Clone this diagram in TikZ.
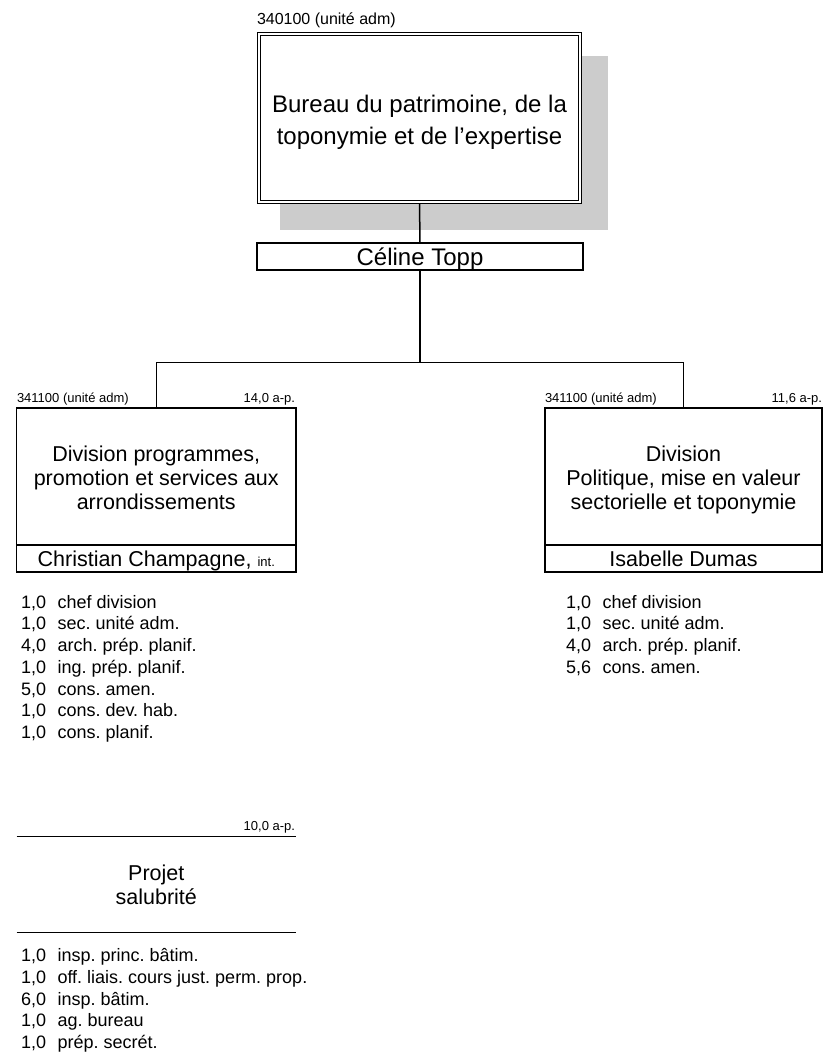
\documentclass[tikz,border=0pt]{standalone}
\usepackage{fontspec}
\setmainfont{Liberation Sans}
\frenchspacing
\usetikzlibrary{positioning}
\definecolor{shadowgray}{RGB}{204,204,204}
\newcommand{\bigfont}{\fontsize{24}{32.5}\selectfont}
\newcommand{\midfont}{\fontsize{21.5}{24}\selectfont}
\newcommand{\listfont}{\fontsize{18}{21.7}\selectfont}
\newcommand{\smallfont}{\fontsize{13}{15}\selectfont}
\newcommand{\topfont}{\fontsize{16}{18}\selectfont}

\begin{document}
\begin{tikzpicture}[x=1pt,y=-1pt,
every node/.style={inner sep=0pt,outer sep=0pt},
box/.style={draw,line width=1.5pt,rectangle,fill=white},
link/.style={line width=1.5pt},
title/.style={anchor=north,align=center},
tag/.style={anchor=base,font=\smallfont},
listbox/.style={anchor=north west,font=\listfont}]

\useasboundingbox (0,0) rectangle (823,1054);

% bureau
\fill[shadowgray] (280,56) rectangle (608,230);
\node[box,double,line width=1.1pt,double distance=2.2pt,
minimum width=321.5pt,minimum height=167.5pt]
(bureau) at (419.5,118) {};
\node[title,font=\bigfont] (bureautxt) at (419.5,94.8)
{Bureau du patrimoine, de la\\toponymie et de l'expertise};
\node[anchor=base west,font=\topfont] (bureaucode) at (257,25) {340100 (unité adm)};

\node[box,minimum width=326pt,minimum height=27pt] (celine) at (420,256.5) {};
\node[anchor=base,font=\bigfont] (celinetxt) at (420,265.5) {Céline Topp};

% divisions
\node[box,minimum width=279.5pt,minimum height=137pt] (divprog) at (156.25,476.5) {};
\node[box,minimum width=279.5pt,minimum height=27pt,below=0pt of divprog] (champagne) {};
\node[title,font=\midfont] (divprogtxt) at (156.25,446)
{Division programmes,\\promotion et services aux\\arrondissements};
\node[anchor=base,font=\midfont] (champagnetxt) at (156.25,566)
{Christian Champagne, {\smallfont int.}};
\node[tag,anchor=base west] (divprogcode) at (17,402) {341100 (unité adm)};
\node[tag,anchor=base east] (divprogap) at (295,402) {14,0 a-p.};

\node[box,minimum width=277pt,minimum height=137pt] (divpol) at (683.5,476.5) {};
\node[box,minimum width=277pt,minimum height=27pt,below=0pt of divpol] (dumas) {};
\node[title,font=\midfont] (divpoltxt) at (683.5,446)
{Division\\Politique, mise en valeur\\sectorielle et toponymie};
\node[anchor=base,font=\midfont] (dumastxt) at (683.5,566) {Isabelle Dumas};
\node[tag,anchor=base west] (divpolcode) at (545,402) {341100 (unité adm)};
\node[tag,anchor=base east] (divpolap) at (822,402) {11,6 a-p.};

% liens
\coordinate (split) at (420,362.5);
\draw[link,shorten <=2.2pt] (bureau.south) -- (celine.north);
\draw[link] (celine.south) -- (split);
\draw[link] (divprog.north) |- (split) -| (divpol.north);

% postes
\node[listbox] (listprog) at (21,593.1) {\begin{tabular}{@{}l@{\hspace{11.5pt}}l@{}}
1,0 & chef division\\
1,0 & sec. unité adm.\\
4,0 & arch. prép. planif.\\
1,0 & ing. prép. planif.\\
5,0 & cons. amen.\\
1,0 & cons. dev. hab.\\
1,0 & cons. planif.
\end{tabular}};
\node[listbox] (listpol) at (566,593.1) {\begin{tabular}{@{}l@{\hspace{11.5pt}}l@{}}
1,0 & chef division\\
1,0 & sec. unité adm.\\
4,0 & arch. prép. planif.\\
5,6 & cons. amen.
\end{tabular}};

% projet
\node[minimum width=279.5pt,minimum height=96pt] (projet) at (156.25,884.7) {};
\draw[link] (projet.north west) -- (projet.north east);
\draw[link] (projet.south west) -- (projet.south east);
\node[title,font=\midfont] (projettxt) at (156.25,864.6) {Projet\\salubrité};
\node[tag,anchor=base east] (projetap) at (295,830) {10,0 a-p.};
\node[listbox] (listsal) at (21,946.5) {\begin{tabular}{@{}l@{\hspace{11.5pt}}l@{}}
1,0 & insp. princ. bâtim.\\
1,0 & off. liais. cours just. perm. prop.\\
6,0 & insp. bâtim.\\
1,0 & ag. bureau\\
1,0 & prép. secrét.
\end{tabular}};
\end{tikzpicture}
\end{document}
